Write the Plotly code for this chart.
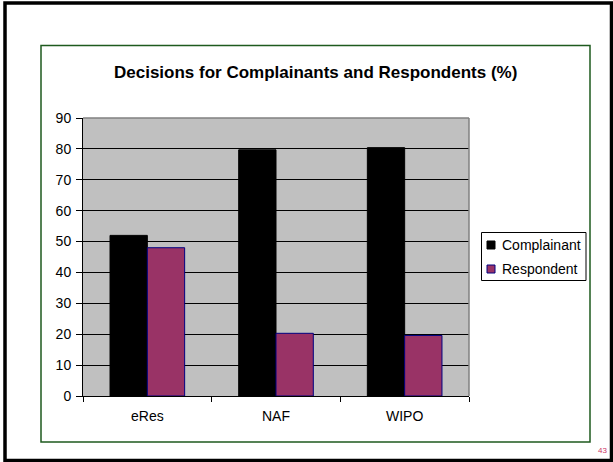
import plotly.graph_objects as go

categories = ["eRes", "NAF", "WIPO"]
series_names = ["Complainant", "Respondent"]
complainant = [52, 79.7, 80.4]
respondent = [48, 20.3, 19.6]
y_ticks = [0, 10, 20, 30, 40, 50, 60, 70, 80, 90]

W, H = 613, 462
L, R, T, B = 83, 469, 118, 396  # plot area pixel bounds


def px(x):
    return (x - L) / (R - L)


def py(y):
    return (B - y) / (B - T)


fills = ["#000000", "#993366"]
edges = ["#000000", "#000080"]

fig = go.Figure()
for name, vals, fc, ec in zip(series_names, [complainant, respondent], fills, edges):
    fig.add_trace(go.Bar(
        x=categories, y=vals, name=name, showlegend=False,
        marker=dict(color=fc, line=dict(color=ec, width=1)),
    ))

font = "Liberation Sans, Arial, sans-serif"

fig.update_layout(
    width=W, height=H,
    margin=dict(l=L, r=W - R, t=T, b=H - B),
    paper_bgcolor="white",
    plot_bgcolor="#C0C0C0",
    barmode="group",
    bargap=0.42,
    bargroupgap=0,
    font=dict(family=font, size=14, color="#000000"),
    showlegend=False,
    xaxis=dict(
        type="category",
        showgrid=False, showline=True, linecolor="#000000", linewidth=1,
        ticks="outside", tickson="boundaries", ticklen=5, tickcolor="#000000",
        tickfont=dict(family=font, size=14), zeroline=False,
        ticklabelstandoff=7, fixedrange=True,
    ),
    yaxis=dict(
        range=[0, 90], tickvals=y_ticks,
        showgrid=True, gridcolor="#000000", gridwidth=1,
        showline=True, linecolor="#000000", linewidth=1,
        ticks="outside", ticklen=6, tickcolor="#000000",
        tickfont=dict(family=font, size=14), zeroline=False,
        ticklabelstandoff=2, fixedrange=True,
    ),
)

shapes = []
# outer black slide frame
shapes.append(dict(type="rect", xref="paper", yref="paper",
                   x0=px(5), x1=px(611.5), y0=py(3), y1=py(460.5),
                   line=dict(color="#000000", width=3.5), fillcolor="rgba(0,0,0,0)",
                   layer="above"))
# green chart frame
shapes.append(dict(type="rect", xref="paper", yref="paper",
                   x0=px(41), x1=px(590), y0=py(45.5), y1=py(442),
                   line=dict(color="#1E5A1E", width=1.5), fillcolor="rgba(0,0,0,0)",
                   layer="above"))
# gray plot area border (top and right)
shapes.append(dict(type="line", xref="paper", yref="paper",
                   x0=0, x1=1, y0=1, y1=1,
                   line=dict(color="#808080", width=1.5), layer="above"))
shapes.append(dict(type="line", xref="paper", yref="paper",
                   x0=1, x1=1, y0=0, y1=1,
                   line=dict(color="#808080", width=1.5), layer="above"))
# legend box
shapes.append(dict(type="rect", xref="paper", yref="paper",
                   x0=px(481.5), x1=px(586), y0=py(232.5), y1=py(280.5),
                   line=dict(color="#000000", width=1), fillcolor="white",
                   layer="above"))
legend_rows = [245, 269]
for name, fc, ec, yc in zip(series_names, fills, edges, legend_rows):
    shapes.append(dict(type="rect", xref="paper", yref="paper",
                       x0=px(487), x1=px(495), y0=py(yc - 4), y1=py(yc + 4),
                       line=dict(color=ec, width=1), fillcolor=fc, layer="above"))
    fig.add_annotation(
        text=name, xref="paper", yref="paper", x=px(500), y=py(yc),
        xanchor="left", yanchor="middle", showarrow=False,
        font=dict(family=font, size=14, color="#000000"),
    )
fig.update_layout(shapes=shapes)

fig.add_annotation(
    text="<b>Decisions for Complainants and Respondents (%)</b>",
    xref="paper", yref="paper", x=px(315), y=py(73),
    xanchor="center", yanchor="middle", showarrow=False,
    font=dict(family=font, size=17, color="#000000"),
)
fig.add_annotation(
    text="43", xref="paper", yref="paper", x=px(602), y=py(450),
    xanchor="center", yanchor="middle", showarrow=False,
    font=dict(family=font, size=8, color="#CC3366"),
)

fig.write_html("out.html")
